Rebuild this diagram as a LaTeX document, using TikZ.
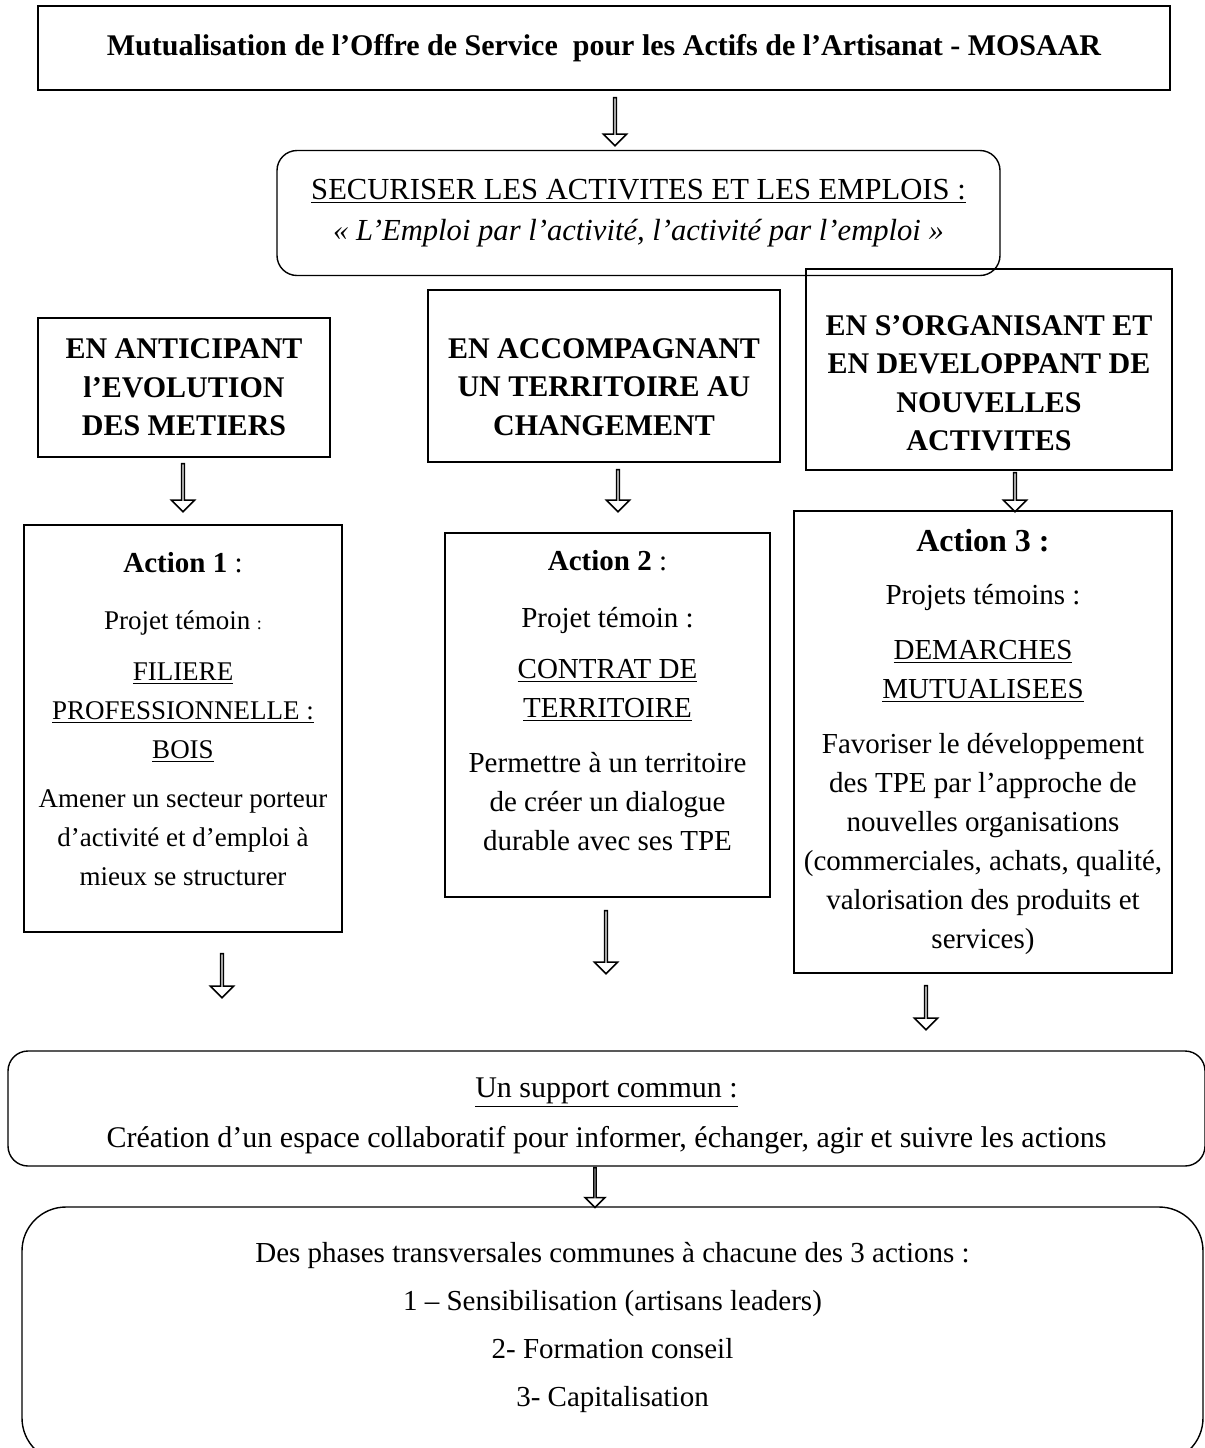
\documentclass[tikz,border=0pt]{standalone}
\usepackage{fontspec}
\setmainfont{Liberation Serif}
\usetikzlibrary{shapes.arrows}

\begin{document}
\begin{tikzpicture}[x=0.5pt, y=-0.5pt, plain box/.style={rectangle,draw,line width=1pt,align=center,inner sep=0pt}, round box/.style={rectangle,draw,line width=0.7pt,rounded corners=#1,align=center,inner sep=0pt}, round box/.default=10pt, down arrow/.style={single arrow,draw,line width=0.8pt,shape border rotate=270,inner sep=0pt,minimum width=11.5pt,single arrow head extend=3pt,minimum height=#1}]%
\clip (0,0) rectangle (1205,1448);
\begin{scope}[every node/.style={font=\fontsize{14.5}{19.5}\selectfont}]
\node[plain box, minimum width=566pt, minimum height=42pt, font=\fontsize{15}{19.5}\selectfont\bfseries] (title) at (604,48) {Mutualisation de l’Offre de Service\ \ pour les Actifs de l’Artisanat - MOSAAR};%top
\node[round box, minimum width=361.5pt, minimum height=62.5pt, font=\fontsize{15.3}{20.5}\selectfont] (goal) at (638.5,213) {\underline{SECURISER LES ACTIVITES ET LES EMPLOIS :}\\ \textit{« L’Emploi par l’activité, l’activité par l’emploi »}};%goal
\node[plain box, minimum width=146pt, minimum height=69.5pt, font=\fontsize{15}{19.25}\selectfont\bfseries] (anticip) at (184,387.5) {EN ANTICIPANT\\ l’EVOLUTION\\ DES METIERS};%A
\node[plain box, minimum width=176pt, minimum height=86pt, font=\fontsize{15}{19.25}\selectfont\bfseries] (accomp) at (604,376) {\mbox{}\\[1.5pt] EN ACCOMPAGNANT\\ UN TERRITOIRE AU\\ CHANGEMENT};%B
\node[plain box, minimum width=183pt, minimum height=100.5pt, font=\fontsize{15}{19.25}\selectfont\bfseries] (organis) at (989,369.5) {\mbox{}\\[4.5pt] EN S’ORGANISANT ET\\ EN DEVELOPPANT DE\\ NOUVELLES\\ ACTIVITES};%C
\node[plain box, minimum width=159pt, minimum height=203.5pt, font=\fontsize{13.5}{19.5}\selectfont] (action1) at (183,728.5) {{\fontsize{14.5}{19.5}\selectfont\textbf{Action 1} :}\\[9pt] Projet témoin {\small :}\\[6pt] \underline{FILIERE}\\ \underline{PROFESSIONNELLE :}\\ \underline{BOIS}\\[5pt] Amener un secteur porteur\\ d’activité et d’emploi à\\ mieux se structurer\\[-10pt]\mbox{}};%1
\node[plain box, minimum width=162.5pt, minimum height=182pt] (action2) at (607.5,715) {\textbf{Action 2} :\\[9pt] Projet témoin :\\[6pt] \underline{CONTRAT DE}\\ \underline{TERRITOIRE}\\[8pt] Permettre à un territoire\\ de créer un dialogue\\ durable avec ses TPE\\[-4.5pt]\mbox{}};%2
\node[plain box, minimum width=189pt, minimum height=231pt] (action3) at (983,742) {{\fontsize{16}{19.5}\selectfont\bfseries Action 3 :}\\[7pt] Projets témoins :\\[8pt] \underline{DEMARCHES}\\ \underline{MUTUALISEES}\\[8pt] Favoriser le développement\\ des TPE par l’approche de\\ nouvelles organisations\\ (commerciales, achats, qualité,\\ valorisation des produits et\\ services)};%3
\node[round box, minimum width=598.5pt, minimum height=57.5pt, font=\fontsize{15}{19.5}\selectfont] (support) at (606.5,1108.5) {\mbox{}\\[-2.5pt] \underline{Un support commun :}\\[5.5pt] Création d’un espace collaboratif pour informer, échanger, agir et suivre les actions};%support
\node[round box=22pt, minimum width=590.5pt, minimum height=127.5pt, font=\fontsize{14.5}{24}\selectfont] (phases) at (612.5,1334.5) {Des phases transversales communes à chacune des 3 actions :\\ 1 – Sensibilisation (artisans leaders)\\ 2- Formation conseil\\ 3- Capitalisation\\[-14pt]\mbox{}};%phases
\end{scope}
\begin{scope}[every node/.style={down arrow=20pt}]
\node[down arrow=24pt] (arr0) at (615,121) {};
\node[down arrow=24pt] (arrA) at (183,487) {};
\node[down arrow=21pt] (arrB) at (618,490) {};
\node[down arrow=19.5pt] (arrC) at (1015,491.5) {};
\node[down arrow=22pt] (arr1) at (222,975) {};
\node[down arrow=31.5pt] (arr2) at (606,941.5) {};
\node[down arrow=22pt] (arr3) at (926,1007) {};
\node[down arrow=20pt, minimum width=10pt] (arr4) at (595,1187) {};
%\node[down arrow=] (arr) at (,) {};
\end{scope}
\end{tikzpicture}
\end{document}
